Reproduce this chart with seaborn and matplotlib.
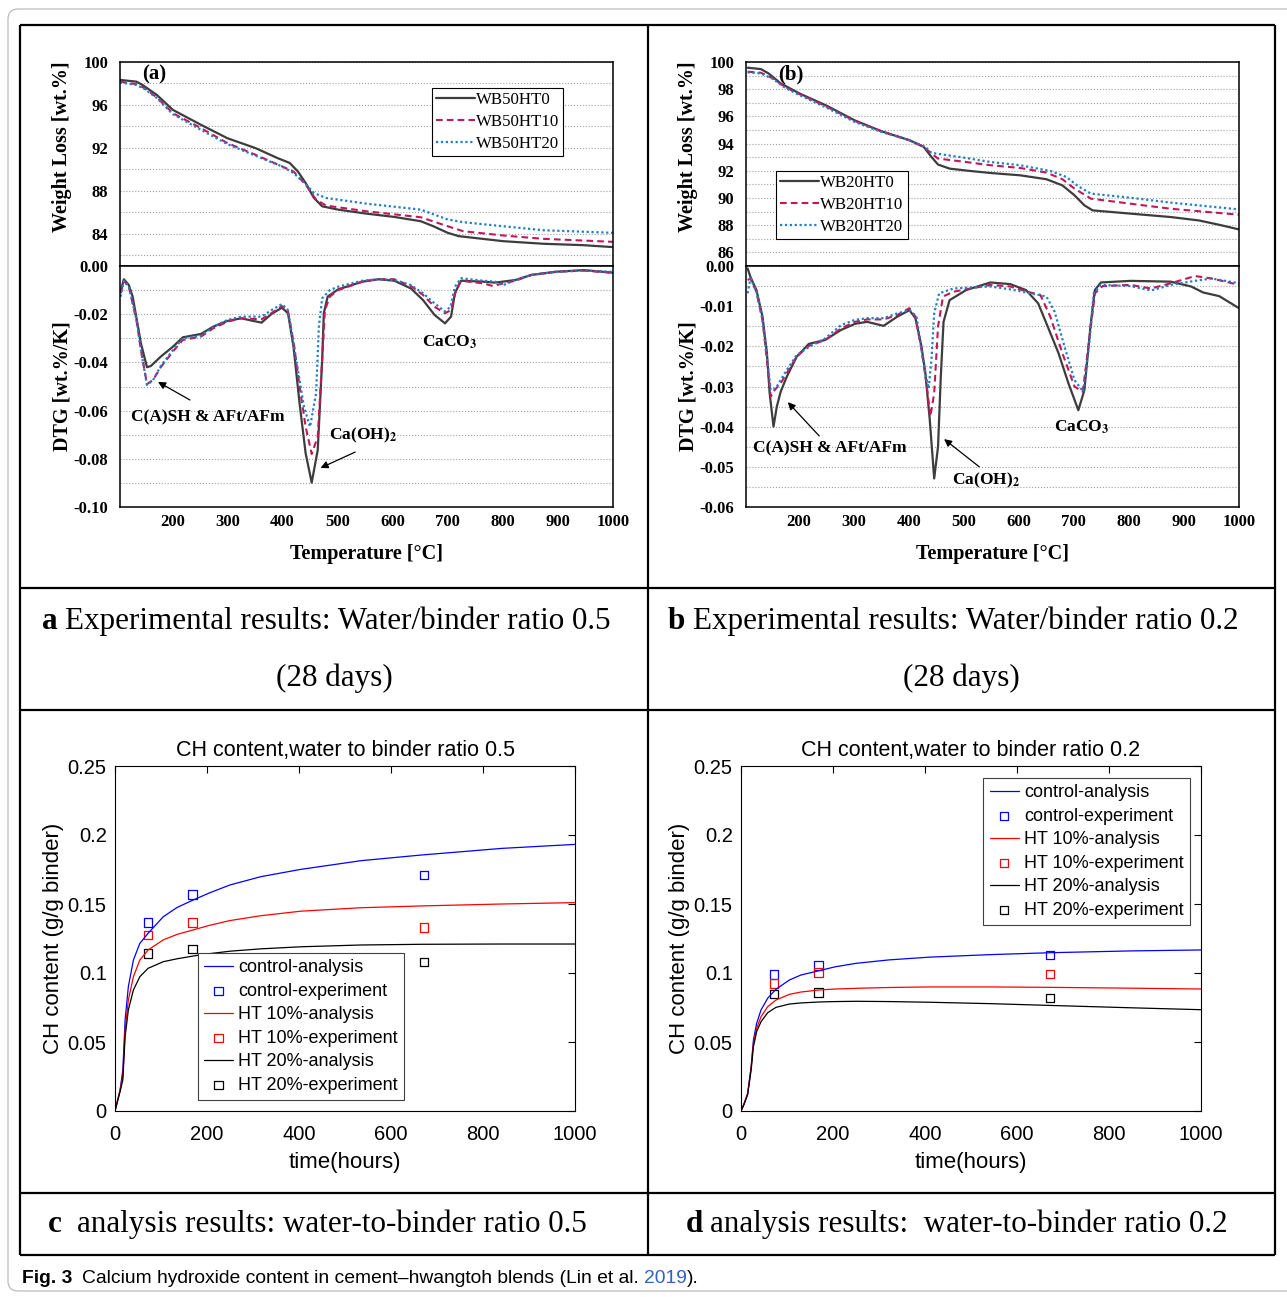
import numpy as np
import pandas as pd
import matplotlib
matplotlib.use("Agg")
from matplotlib import pyplot as plt
from matplotlib.patches import FancyBboxPatch
import seaborn as sns

# ---------------- data ----------------
# (a) water/binder 0.5 -- TG curves (temperature, weight %)
a_tg_t0 = [105, 135, 146, 172, 201, 252, 300, 351, 391, 413, 428, 442, 457, 472, 501, 552, 603, 651, 674, 700, 720, 801, 874, 946, 1000]
a_tg_v0 = [98.33, 98.17, 97.86, 96.93, 95.54, 94.15, 92.90, 91.98, 91.05, 90.60, 89.80, 88.73, 87.34, 86.56, 86.25, 85.88, 85.57, 85.17, 84.70, 84.09, 83.78, 83.31, 83.07, 82.94, 82.76]
a_tg_t10 = [105, 135, 150, 172, 201, 252, 300, 351, 399, 420, 442, 461, 479, 552, 651, 700, 728, 801, 874, 1000]
a_tg_v10 = [98.17, 97.93, 97.55, 96.69, 95.23, 93.84, 92.45, 91.36, 90.28, 89.80, 88.58, 87.18, 86.63, 86.10, 85.54, 84.70, 84.24, 83.84, 83.53, 83.25]
a_tg_t20 = [105, 135, 150, 172, 201, 252, 300, 351, 399, 420, 442, 457, 479, 552, 651, 700, 728, 801, 874, 1000]
a_tg_v20 = [98.10, 97.86, 97.48, 96.63, 95.14, 93.68, 92.35, 91.27, 90.28, 89.66, 88.64, 87.80, 87.34, 86.81, 86.25, 85.33, 85.08, 84.70, 84.33, 84.09]

# (a) DTG curves
a_dtg_t0 = [106, 112, 121, 128, 135, 143, 154, 161, 179, 201, 219, 252, 274, 300, 325, 347, 362, 380, 399, 410, 420, 431, 442, 453, 464, 472, 475, 482, 501, 545, 574, 603, 633, 655, 676, 695, 706, 713, 724, 764, 786, 823, 852, 896, 947, 1000]
a_dtg_v0 = [-0.0107, -0.0055, -0.0079, -0.0127, -0.0217, -0.0321, -0.0420, -0.0415, -0.0376, -0.0335, -0.0296, -0.0282, -0.0252, -0.0228, -0.0217, -0.0228, -0.0235, -0.0199, -0.0173, -0.0196, -0.0335, -0.0570, -0.0777, -0.0899, -0.0763, -0.0390, -0.0196, -0.0127, -0.0097, -0.0065, -0.0055, -0.0061, -0.0093, -0.0141, -0.0203, -0.0238, -0.0210, -0.0113, -0.0061, -0.0065, -0.0069, -0.0058, -0.0037, -0.0024, -0.0017, -0.0028]
a_dtg_t10 = [106, 112, 121, 135, 143, 154, 165, 179, 201, 219, 252, 274, 300, 325, 362, 380, 399, 410, 420, 431, 442, 453, 464, 472, 477, 486, 501, 545, 574, 603, 633, 655, 676, 695, 706, 715, 724, 764, 782, 801, 823, 852, 896, 947, 1000]
a_dtg_v10 = [-0.0113, -0.0061, -0.0086, -0.0224, -0.0349, -0.0490, -0.0473, -0.0420, -0.0355, -0.0307, -0.0293, -0.0259, -0.0231, -0.0217, -0.0221, -0.0196, -0.0166, -0.0189, -0.0314, -0.0500, -0.0667, -0.0780, -0.0708, -0.0390, -0.0183, -0.0127, -0.0100, -0.0065, -0.0054, -0.0055, -0.0083, -0.0120, -0.0169, -0.0196, -0.0183, -0.0100, -0.0061, -0.0072, -0.0083, -0.0072, -0.0061, -0.0037, -0.0024, -0.0019, -0.0028]
a_dtg_t20 = [106, 112, 121, 135, 143, 154, 165, 179, 201, 219, 252, 274, 300, 325, 362, 380, 399, 410, 418, 428, 439, 450, 461, 466, 472, 486, 501, 545, 574, 603, 633, 655, 676, 695, 705, 713, 724, 764, 786, 801, 823, 852, 896, 947, 1000]
a_dtg_v20 = [-0.0127, -0.0061, -0.0086, -0.0224, -0.0349, -0.0494, -0.0473, -0.0415, -0.0349, -0.0300, -0.0290, -0.0252, -0.0224, -0.0210, -0.0210, -0.0183, -0.0158, -0.0183, -0.0293, -0.0432, -0.0584, -0.0667, -0.0528, -0.0252, -0.0134, -0.0100, -0.0086, -0.0061, -0.0055, -0.0058, -0.0079, -0.0113, -0.0155, -0.0189, -0.0169, -0.0086, -0.0051, -0.0061, -0.0065, -0.0079, -0.0058, -0.0037, -0.0024, -0.0019, -0.0024]

# (b) water/binder 0.2 -- TG curves
b_tg_t0 = [107, 131, 145, 167, 201, 251, 301, 350, 401, 427, 441, 453, 474, 511, 548, 602, 650, 679, 701, 719, 734, 803, 876, 927, 964, 1000]
b_tg_v0 = [99.58, 99.48, 99.16, 98.43, 97.69, 96.78, 95.72, 94.91, 94.25, 93.76, 93.02, 92.46, 92.16, 91.99, 91.84, 91.67, 91.38, 90.93, 90.20, 89.46, 89.09, 88.85, 88.60, 88.35, 88.03, 87.69]
b_tg_t10 = [107, 131, 153, 174, 201, 251, 301, 350, 401, 427, 441, 453, 503, 548, 602, 650, 679, 701, 731, 803, 876, 1000]
b_tg_v10 = [99.29, 99.21, 98.80, 98.18, 97.64, 96.71, 95.68, 94.91, 94.25, 93.76, 93.27, 92.90, 92.65, 92.41, 92.21, 91.87, 91.38, 90.69, 89.95, 89.58, 89.21, 88.77]
b_tg_t20 = [107, 131, 153, 174, 201, 251, 301, 350, 401, 430, 441, 503, 548, 602, 657, 686, 708, 731, 803, 876, 1000]
b_tg_v20 = [99.24, 99.16, 98.75, 98.13, 97.57, 96.63, 95.60, 94.86, 94.25, 93.76, 93.32, 92.95, 92.65, 92.41, 91.99, 91.55, 90.86, 90.32, 90.02, 89.66, 89.16]

# (b) DTG curves
b_dtg_t0 = [107, 112, 123, 134, 142, 147, 154, 160, 167, 178, 196, 218, 248, 277, 302, 324, 354, 379, 401, 412, 423, 430, 438, 446, 453, 458, 463, 474, 504, 548, 584, 613, 635, 650, 672, 690, 708, 719, 730, 738, 749, 803, 876, 913, 935, 964, 1000]
b_dtg_v0 = [-0.0006, -0.0027, -0.0060, -0.0126, -0.0217, -0.0317, -0.0400, -0.0350, -0.0313, -0.0276, -0.0226, -0.0194, -0.0184, -0.0159, -0.0144, -0.0139, -0.0149, -0.0126, -0.0110, -0.0130, -0.0201, -0.0267, -0.0383, -0.0529, -0.0450, -0.0276, -0.0139, -0.0085, -0.0060, -0.0041, -0.0045, -0.0060, -0.0093, -0.0143, -0.0217, -0.0292, -0.0359, -0.0309, -0.0151, -0.0060, -0.0041, -0.0037, -0.0039, -0.0051, -0.0066, -0.0075, -0.0105]
b_dtg_t10 = [107, 112, 123, 134, 142, 149, 156, 167, 178, 196, 218, 248, 277, 302, 324, 354, 379, 401, 412, 423, 432, 439, 446, 453, 462, 481, 548, 584, 621, 639, 657, 679, 701, 716, 727, 738, 752, 803, 840, 876, 920, 950, 1000]
b_dtg_v10 = [-0.0035, -0.0031, -0.0064, -0.0134, -0.0234, -0.0325, -0.0309, -0.0292, -0.0267, -0.0226, -0.0199, -0.0184, -0.0155, -0.0139, -0.0133, -0.0133, -0.0122, -0.0105, -0.0126, -0.0209, -0.0292, -0.0375, -0.0317, -0.0151, -0.0076, -0.0064, -0.0047, -0.0051, -0.0066, -0.0072, -0.0126, -0.0217, -0.0300, -0.0313, -0.0193, -0.0068, -0.0050, -0.0047, -0.0056, -0.0043, -0.0025, -0.0031, -0.0047]
b_dtg_t20 = [107, 112, 123, 134, 142, 149, 158, 167, 178, 196, 218, 248, 277, 302, 324, 354, 379, 401, 414, 423, 430, 436, 441, 446, 455, 481, 548, 584, 621, 650, 665, 683, 701, 717, 727, 736, 749, 803, 840, 876, 920, 950, 1000]
b_dtg_v20 = [-0.0068, -0.0031, -0.0064, -0.0134, -0.0226, -0.0309, -0.0305, -0.0284, -0.0259, -0.0222, -0.0202, -0.0180, -0.0147, -0.0134, -0.0130, -0.0130, -0.0118, -0.0110, -0.0126, -0.0209, -0.0267, -0.0305, -0.0234, -0.0118, -0.0068, -0.0056, -0.0051, -0.0058, -0.0068, -0.0076, -0.0114, -0.0201, -0.0284, -0.0313, -0.0202, -0.0068, -0.0047, -0.0050, -0.0061, -0.0047, -0.0037, -0.0031, -0.0043]

names_a = ["WB50HT0", "WB50HT10", "WB50HT20"]
names_b = ["WB20HT0", "WB20HT10", "WB20HT20"]

# (c) CH content, w/b 0.5 (analysis curves + experiments)
c_time = [0, 11, 17, 22, 29, 40, 54, 72, 105, 135, 170, 205, 250, 317, 404, 535, 666, 841, 1000]
c_ctrl = [0, 0.0152, 0.0297, 0.066, 0.090, 0.1094, 0.1215, 0.1288, 0.1408, 0.1475, 0.1529, 0.158, 0.1638, 0.1698, 0.1751, 0.1814, 0.1855, 0.1903, 0.1932]
c_ht10 = [0, 0.0152, 0.025, 0.059, 0.0804, 0.0973, 0.1094, 0.1167, 0.124, 0.128, 0.1312, 0.1345, 0.138, 0.1415, 0.1448, 0.1473, 0.1486, 0.150, 0.151]
c_ht20 = [0, 0.014, 0.0225, 0.054, 0.0732, 0.0877, 0.0973, 0.1034, 0.1082, 0.1103, 0.1123, 0.114, 0.1158, 0.1175, 0.119, 0.1203, 0.1208, 0.121, 0.121]

# (d) CH content, w/b 0.2
d_time = [0, 7, 14.5, 22, 27, 34, 43.5, 58, 76, 105, 130, 170, 205, 250, 322, 410, 541, 672, 847, 1000]
d_ctrl = [0, 0.0056, 0.0128, 0.0321, 0.0514, 0.0635, 0.0732, 0.0817, 0.0882, 0.0949, 0.0985, 0.1017, 0.1045, 0.107, 0.1095, 0.1115, 0.1133, 0.1147, 0.116, 0.1167]
d_ht10 = [0, 0.0056, 0.0125, 0.031, 0.049, 0.0599, 0.0683, 0.0756, 0.0804, 0.0845, 0.0862, 0.0877, 0.0884, 0.0889, 0.0895, 0.0899, 0.0899, 0.0896, 0.0890, 0.0884]
d_ht20 = [0, 0.005, 0.012, 0.0297, 0.0466, 0.0575, 0.0647, 0.0712, 0.0751, 0.0775, 0.0783, 0.0790, 0.0793, 0.0795, 0.0793, 0.0788, 0.0778, 0.0765, 0.0748, 0.0734]

exp_time = [72, 168, 672]
c_exp_ctrl = [0.1365, 0.157, 0.171]
c_exp_ht10 = [0.1275, 0.1367, 0.133]
c_exp_ht20 = [0.1143, 0.1174, 0.108]
d_exp_ctrl = [0.099, 0.1056, 0.113]
d_exp_ht10 = [0.0925, 0.1005, 0.0993]
d_exp_ht20 = [0.0848, 0.0857, 0.0819]

groups = ["control", "HT 10%", "HT 20%"]

# ---------------- style ----------------
sns.set_style("white")
serif = ["Liberation Serif", "DejaVu Serif"]
sans = ["Liberation Sans", "DejaVu Sans"]
plt.rcParams["font.family"] = serif
plt.rcParams["axes.unicode_minus"] = False
plt.rcParams["mathtext.fontset"] = "stix"
plt.rcParams.update({"axes.edgecolor": "black", "text.color": "black",
                     "xtick.color": "black", "ytick.color": "black",
                     "axes.labelcolor": "black"})

styles = [dict(color="#3d3d3d", lw=1.6, linestyle="-"),
          dict(color="#c2185b", lw=1.5, linestyle=(0, (3.2, 2))),
          dict(color="#1f7fc6", lw=1.6, linestyle=(0, (1, 1.2)))]

W, H = 1287, 1297
fig = plt.figure(figsize=(W / 100, H / 100), dpi=100)


def px_rect(x0, y0, x1, y1):
    return [x0 / W, 1 - y1 / H, (x1 - x0) / W, (y1 - y0) / H]


# background layer in pixel coordinates (table, captions)
bg = fig.add_axes([0, 0, 1, 1])
bg.set_xlim(0, W)
bg.set_ylim(H, 0)
bg.axis("off")
bg.add_patch(FancyBboxPatch((8, 9), 1295, 1282, boxstyle="round,pad=0,rounding_size=10",
                            fc="none", ec="#b5b5b5", lw=0.8))
bg.vlines([20, 648, 1275], 25, 1255, color="black", lw=1.6)
bg.hlines([25, 588, 710, 1193, 1255], 20, 1275, color="black", lw=1.6)

bold12 = dict(fontfamily=serif, fontweight="bold", fontsize=12)


def tga_panel(left, xmin, tg, dtg, names, tg_ticks, tg_minor, tg_lim,
              dtg_ticks, dtg_minor, dtg_lim, tag, tag_x, leg_anchor, notes):
    ax1 = fig.add_axes(px_rect(left, 62, left + 493, 266))
    ax2 = fig.add_axes(px_rect(left, 266, left + 493, 507))
    for (t, v), st, nm in zip(tg, styles, names):
        sns.lineplot(x=t, y=v, ax=ax1, sort=False, estimator=None, legend=False, label=nm, **st)
    for (t, v), st in zip(dtg, styles):
        sns.lineplot(x=t, y=v, ax=ax2, sort=False, estimator=None, legend=False, **st)

    xt = list(range(200, 1001, 100))
    for ax in (ax1, ax2):
        ax.set_xlim(xmin, 1000)
        ax.set_xticks(xt)
        ax.set_xticks(list(range(150, 1000, 50)), minor=True)
        ax.tick_params(axis="x", which="major", direction="in", length=5, width=1)
        ax.tick_params(axis="x", which="minor", direction="in", length=3, width=0.8)
        ax.tick_params(axis="y", which="major", direction="out", length=5, width=1)
        ax.tick_params(axis="y", which="minor", direction="out", length=3, width=0.8)
        ax.grid(axis="y", which="both", linestyle=":", color="#a0a0a0", lw=0.8)
        ax.set_axisbelow(True)
        for s in ax.spines.values():
            s.set_linewidth(1.1)

    ax1.set_ylim(*tg_lim)
    ax1.set_yticks(tg_ticks, labels=[f"{v:g}" for v in tg_ticks], **bold12)
    ax1.set_yticks(tg_minor, minor=True)
    ax1.tick_params(axis="x", labelbottom=False)

    ax2.set_ylim(*dtg_lim)
    ax2.set_yticks(dtg_ticks, labels=[f"{round(v, 3) + 0.0:.2f}" for v in dtg_ticks], **bold12)
    ax2.set_yticks(dtg_minor, minor=True)
    ax2.set_xticks(xt, labels=[str(v) for v in xt], **bold12)
    ax2.tick_params(axis="x", pad=5)

    ax1.set_ylabel("Weight Loss [wt.%]", fontfamily=serif, fontweight="bold", fontsize=14.5)
    ax1.yaxis.set_label_coords(-0.097, 0.583)
    ax2.set_ylabel("DTG [wt.%/K]", fontfamily=serif, fontweight="bold", fontsize=14.5)
    ax2.yaxis.set_label_coords(-0.097, 0.5)
    ax2.set_xlabel("Temperature [°C]", fontfamily=serif, fontweight="bold", fontsize=14.5)
    ax2.xaxis.set_label_coords(0.5, -0.155)

    ax1.text(tag_x, 0.941, tag, transform=ax1.transAxes, ha="left", va="center",
             fontfamily=serif, fontweight="bold", fontsize=15)
    leg = ax1.legend(loc="upper left", bbox_to_anchor=leg_anchor, prop=dict(family=serif, size=12.2),
                     frameon=True, fancybox=False, edgecolor="black", framealpha=1,
                     borderpad=0.25, labelspacing=0.34, handlelength=2.3,
                     handletextpad=0.05, borderaxespad=0)
    leg.get_frame().set_linewidth(0.8)

    for txt, pos, tip, tail in notes:
        ax2.text(pos[0], pos[1], txt, ha="left", va="center", fontfamily=serif,
                 fontweight="bold", fontsize=12.5)
        if tip is not None:
            ax2.annotate("", xy=tip, xytext=tail,
                         arrowprops=dict(arrowstyle="-|>", color="black", lw=0.9,
                                         mutation_scale=11, shrinkA=0, shrinkB=0))


tga_panel(120, 105,
          [(a_tg_t0, a_tg_v0), (a_tg_t10, a_tg_v10), (a_tg_t20, a_tg_v20)],
          [(a_dtg_t0, a_dtg_v0), (a_dtg_t10, a_dtg_v10), (a_dtg_t20, a_dtg_v20)],
          names_a, [84, 88, 92, 96, 100], [82, 86, 90, 94, 98], (81, 100),
          [-0.10, -0.08, -0.06, -0.04, -0.02, 0.0], [-0.09, -0.07, -0.05, -0.03, -0.01], (-0.1, 0),
          "(a)", 0.045, (0.632, 0.873),
          [("C(A)SH & AFt/AFm", (125, -0.0627), (174, -0.0481), (232, -0.0556)),
           ("Ca(OH)$_\\mathbf{2}$", (485, -0.0701), (469, -0.0838), (532, -0.0772)),
           ("CaCO$_\\mathbf{3}$", (654, -0.0315), None, None)])

tga_panel(746, 104,
          [(b_tg_t0, b_tg_v0), (b_tg_t10, b_tg_v10), (b_tg_t20, b_tg_v20)],
          [(b_dtg_t0, b_dtg_v0), (b_dtg_t10, b_dtg_v10), (b_dtg_t20, b_dtg_v20)],
          names_b, [86, 88, 90, 92, 94, 96, 98, 100], [87, 89, 91, 93, 95, 97, 99], (85, 100),
          [-0.06, -0.05, -0.04, -0.03, -0.02, -0.01, 0.0],
          [-0.055, -0.045, -0.035, -0.025, -0.015, -0.005], (-0.06, 0),
          "(b)", 0.065, (0.061, 0.466),
          [("C(A)SH & AFt/AFm", (117, -0.0453), (180, -0.0339), (237, -0.0423)),
           ("Ca(OH)$_\\mathbf{2}$", (479, -0.0533), (464, -0.0431), (528, -0.0500)),
           ("CaCO$_\\mathbf{3}$", (664, -0.0401), None, None)])


def ch_panel(left, t, curves, exps, title, leg_kw):
    ax = fig.add_axes(px_rect(left, 766, left + 460, 1111))
    for v, ve, c, g in zip(curves, exps, ["blue", "red", "black"], groups):
        sns.lineplot(x=t, y=v, ax=ax, color=c, lw=0.9, sort=False, estimator=None,
                     legend=False, label=f"{g}-analysis")
        sns.scatterplot(x=exp_time, y=ve, ax=ax, marker="s", s=38, legend=False,
                        label=f"{g}-experiment")
        pts = ax.collections[-1]
        pts.set_facecolor("none")
        pts.set_edgecolor(c)
        pts.set_linewidth(0.9)
    ax.set_xlim(0, 1000)
    ax.set_ylim(0, 0.25)
    xt = [0, 200, 400, 600, 800, 1000]
    yt = [0, 0.05, 0.1, 0.15, 0.2, 0.25]
    ax.set_xticks(xt, labels=[f"{v:g}" for v in xt], fontfamily=sans, fontsize=14.5)
    ax.set_yticks(yt, labels=[f"{v:g}" for v in yt], fontfamily=sans, fontsize=14.5)
    ax.tick_params(direction="in", length=5, width=0.8, top=True, right=True)
    ax.tick_params(axis="x", pad=10)
    ax.tick_params(axis="y", pad=6)
    for s in ax.spines.values():
        s.set_linewidth(0.8)
    ax.set_title(title, fontfamily=sans, fontsize=15.5, pad=7)
    ax.set_xlabel("time(hours)", fontfamily=sans, fontsize=16)
    ax.xaxis.set_label_coords(0.5, -0.12)
    ax.set_ylabel("CH content (g/g binder)", fontfamily=sans, fontsize=16)
    ax.yaxis.set_label_coords(-0.11, 0.5)
    leg = ax.legend(prop=dict(family=sans, size=13), frameon=True, fancybox=False,
                    edgecolor="#404040", framealpha=1, borderpad=0.35, labelspacing=0.36,
                    handlelength=1.6, handletextpad=0.3, borderaxespad=0, **leg_kw)
    leg.get_frame().set_linewidth(0.8)


ch_panel(115, c_time, [c_ctrl, c_ht10, c_ht20], [c_exp_ctrl, c_exp_ht10, c_exp_ht20],
         "CH content,water to binder ratio 0.5",
         dict(loc="lower left", bbox_to_anchor=(0.180, 0.032)))
ch_panel(741, d_time, [d_ctrl, d_ht10, d_ht20], [d_exp_ctrl, d_exp_ht10, d_exp_ht20],
         "CH content,water to binder ratio 0.2",
         dict(loc="upper right", bbox_to_anchor=(0.976, 0.965)))

# ---------------- panel captions ----------------
cap = dict(fontfamily=serif, fontsize=22.4, va="baseline")
bg.text(42, 629, "a", fontweight="bold", **cap)
bg.text(65, 629, "Experimental results: Water/binder ratio 0.5", **cap)
bg.text(334, 686, "(28 days)", ha="center", **cap)
bg.text(668, 629, "b", fontweight="bold", **cap)
bg.text(693, 629, "Experimental results: Water/binder ratio 0.2", **cap)
bg.text(961, 686, "(28 days)", ha="center", **cap)
cap2 = dict(fontfamily=serif, fontsize=22.4, va="baseline")
bg.text(48, 1232, "c", fontweight="bold", **cap2)
bg.text(77, 1232, "analysis results: water-to-binder ratio 0.5", **cap2)
bg.text(686, 1232, "d", fontweight="bold", **cap2)
bg.text(710, 1232, "analysis results:  water-to-binder ratio 0.2", **cap2)

# figure caption
t1 = bg.text(22, 1283, "Fig. 3", fontfamily=sans, fontweight="bold", fontsize=13.9, va="baseline")
t2 = bg.annotate("Calcium hydroxide content in cement–hwangtoh blends (Lin et al.", xy=(1, 0),
                 xycoords=t1, xytext=(7, 0), textcoords="offset points", va="bottom",
                 fontfamily=sans, fontsize=13.9)
t3 = bg.annotate("2019", xy=(1, 0), xycoords=t2, xytext=(3.5, 0), textcoords="offset points",
                 va="bottom", fontfamily=sans, fontsize=13.9, color="#2f62c4")
bg.annotate(").", xy=(1, 0), xycoords=t3, xytext=(0, 0), textcoords="offset points",
            va="bottom", fontfamily=sans, fontsize=13.9)

fig.savefig("out.png", dpi=100)
